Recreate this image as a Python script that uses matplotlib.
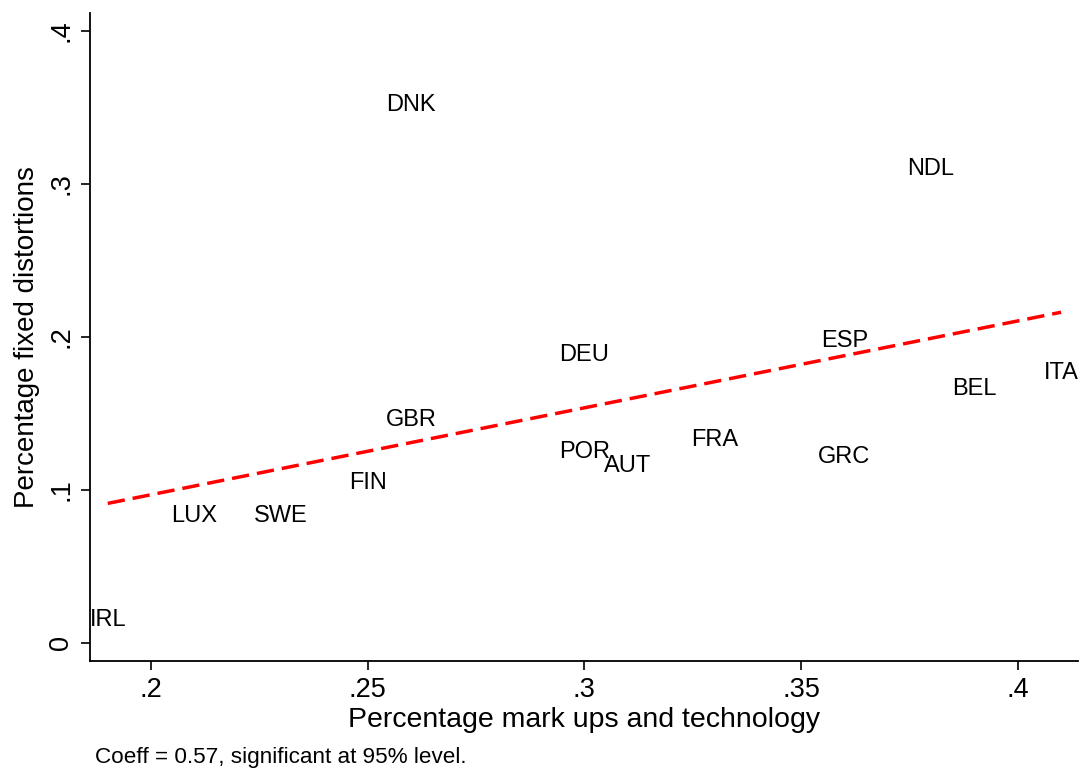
import matplotlib
matplotlib.use("Agg")
import matplotlib.pyplot as plt
import numpy as np

countries = ["IRL", "LUX", "SWE", "FIN", "GBR", "DNK", "DEU", "POR", "AUT",
             "FRA", "ESP", "GRC", "BEL", "NDL", "ITA"]
markups = [0.19, 0.21, 0.23, 0.25, 0.26, 0.26, 0.30, 0.30, 0.31,
           0.33, 0.36, 0.36, 0.39, 0.38, 0.41]
distortions = [0.0155, 0.0837, 0.0837, 0.1052, 0.1464, 0.3529, 0.1889, 0.1255, 0.1163,
               0.1333, 0.1980, 0.1224, 0.1669, 0.3105, 0.1773]
x_ticks = [0.2, 0.25, 0.3, 0.35, 0.4]
x_ticklabels = [".2", ".25", ".3", ".35", ".4"]
y_ticks = [0, 0.1, 0.2, 0.3, 0.4]
y_ticklabels = ["0", ".1", ".2", ".3", ".4"]
note = "Coeff = 0.57, significant at 95% level."

plt.rcParams['font.family'] = ['Liberation Sans', 'DejaVu Sans']

fig = plt.figure(figsize=(10.8, 7.69), dpi=100)
ax = fig.add_axes([90/1080, 1-661/769, (1078-90)/1080, (661-13)/769])

x = np.array(markups)
y = np.array(distortions)
slope, intercept = np.polyfit(x, y, 1)
fx = np.array([x.min(), x.max()])
ax.plot(fx, intercept + slope*fx, color='#ff0000', lw=2.5, dashes=(5, 2.3))

for c, xi, yi in zip(countries, markups, distortions):
    ax.text(xi, yi - 0.001, c, ha='center', va='center', fontsize=17)

ax.set_xlim(0.1859, 0.4139)
ax.set_ylim(-0.012, 0.4118)
ax.set_xticks(x_ticks)
ax.set_xticklabels(x_ticklabels, fontsize=19.5)
ax.set_yticks(y_ticks)
ax.set_yticklabels(y_ticklabels, fontsize=19.5, rotation=90, va='center')
ax.tick_params(direction='out', length=6.5, width=1.2, pad=5)
for s in ['top', 'right']:
    ax.spines[s].set_visible(False)
for s in ['left', 'bottom']:
    ax.spines[s].set_linewidth(1.3)
ax.set_xlabel("Percentage mark ups and technology", fontsize=20.5, labelpad=3)
ax.set_ylabel("Percentage fixed distortions", fontsize=20, labelpad=6)
fig.text(95/1080, 1-757/769, note, fontsize=16.2, ha='left', va='center')

fig.savefig("out.png", dpi=100)
